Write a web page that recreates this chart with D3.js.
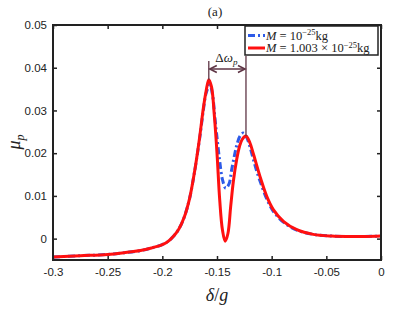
<!DOCTYPE html>
<html><head><meta charset="utf-8">
<script src="https://cdn.jsdelivr.net/npm/d3@7"></script>
<style>body{margin:0;background:#fff}svg{display:block}</style>
</head><body>
<script>
const xTicks = [-0.3,-0.25,-0.2,-0.15,-0.1,-0.05,0];
const xTickLabels = ["-0.3","-0.25","-0.2","-0.15","-0.1","-0.05","0"];
const yTicks = [0,0.01,0.02,0.03,0.04,0.05];
const yTickLabels = ["0","0.01","0.02","0.03","0.04","0.05"];

const deltaRed = [-0.3,-0.275,-0.25,-0.235,-0.22,-0.21,-0.2,-0.195,-0.19,-0.185,-0.18,-0.175,-0.17,-0.166,-0.1625,-0.16,-0.1575,-0.155,-0.1525,-0.15,-0.1475,-0.145,-0.1425,-0.14,-0.1375,-0.135,-0.132,-0.1295,-0.127,-0.1235,-0.12,-0.1167,-0.11,-0.1045,-0.0985,-0.089,-0.077,-0.062,-0.045,-0.03,-0.015,0];
const muRed = [-0.0043,-0.0040,-0.0037,-0.0033,-0.0028,-0.0022,-0.0014,-0.0007,0.0005,0.0022,0.0050,0.0095,0.0165,0.0235,0.0305,0.0345,0.0372,0.0355,0.0290,0.0200,0.0090,0.0020,-0.0006,0.0012,0.0075,0.0135,0.0185,0.0215,0.0232,0.0240,0.0225,0.0198,0.0140,0.0099,0.0068,0.0040,0.0021,0.0010,0.0006,0.0005,0.0005,0.0006];

const deltaBlue = [-0.3,-0.275,-0.25,-0.235,-0.22,-0.21,-0.2,-0.195,-0.19,-0.185,-0.18,-0.175,-0.17,-0.166,-0.1625,-0.16,-0.1565,-0.154,-0.1518,-0.1495,-0.1473,-0.145,-0.142,-0.139,-0.1366,-0.134,-0.132,-0.129,-0.126,-0.123,-0.12,-0.117,-0.1137,-0.11,-0.1045,-0.0985,-0.089,-0.077,-0.062,-0.045,-0.03,-0.015,0];
const muBlue = [-0.0043,-0.0040,-0.0037,-0.0033,-0.0028,-0.0022,-0.0014,-0.0007,0.0005,0.0022,0.0050,0.0095,0.0165,0.0232,0.0300,0.0340,0.0360,0.0335,0.0280,0.0225,0.0177,0.0138,0.0118,0.0128,0.0161,0.0195,0.0218,0.0240,0.0247,0.0238,0.0216,0.0188,0.0158,0.0130,0.0093,0.0064,0.0038,0.0020,0.0010,0.0006,0.0005,0.0005,0.0006];

const peakLeft = -0.1575, peakRight = -0.1235;
const peakLeftVal = 0.0372, peakRightVal = 0.0240;

const W = 416, H = 313;
const m = {l:53, r:35, t:25, b:53};
const svg = d3.select("body").append("svg").attr("width",W).attr("height",H);
const x = d3.scaleLinear().domain([-0.3,0]).range([m.l, W-m.r]);
const y = d3.scaleLinear().domain([-0.005,0.05]).range([H-m.b, m.t]);

const tickFont = "'Liberation Sans', Arial, sans-serif";
const mathFont = "'Liberation Serif', 'DejaVu Serif', serif";

// axes
const gx = svg.append("g").attr("transform",`translate(0,${H-m.b})`)
  .call(d3.axisBottom(x).tickValues(xTicks).tickFormat((d,i)=>xTickLabels[i]).tickSizeInner(-4).tickSizeOuter(0).tickPadding(8));
const gxt = svg.append("g").attr("transform",`translate(0,${m.t})`)
  .call(d3.axisTop(x).tickValues(xTicks).tickFormat("").tickSizeInner(-4).tickSizeOuter(0));
const gy = svg.append("g").attr("transform",`translate(${m.l},0)`)
  .call(d3.axisLeft(y).tickValues(yTicks).tickFormat((d,i)=>yTickLabels[i]).tickSizeInner(-4).tickSizeOuter(0).tickPadding(6));
const gyr = svg.append("g").attr("transform",`translate(${W-m.r},0)`)
  .call(d3.axisRight(y).tickValues(yTicks).tickFormat("").tickSizeInner(-4).tickSizeOuter(0));
[gx,gxt,gy,gyr].forEach(g=>{
  g.selectAll(".domain").remove();
  g.selectAll(".tick line").attr("stroke","#222").attr("stroke-width",1.5);
  g.selectAll("text").attr("font-family",tickFont).attr("font-size",11.5).attr("fill","#222");
});

const clip = svg.append("clipPath").attr("id","c").append("rect")
  .attr("x",m.l).attr("y",m.t).attr("width",W-m.l-m.r).attr("height",H-m.t-m.b);

const line = d3.line().x(d=>x(d[0])).y(d=>y(d[1])).curve(d3.curveCatmullRom.alpha(0.5));
const blueData = deltaBlue.map((d,i)=>[d,muBlue[i]]);
const redData = deltaRed.map((d,i)=>[d,muRed[i]]);

const blue = "#2e5be8", red = "#ff1010", anno = "#5e3545";
svg.append("path").datum(blueData).attr("clip-path","url(#c)").attr("d",line)
  .attr("fill","none").attr("stroke",blue).attr("stroke-width",3).attr("stroke-dasharray","7,3,2,3");
svg.append("path").datum(redData).attr("clip-path","url(#c)").attr("d",line)
  .attr("fill","none").attr("stroke",red).attr("stroke-width",3);

// frame
svg.append("rect").attr("x",m.l).attr("y",m.t).attr("width",W-m.l-m.r).attr("height",H-m.t-m.b)
  .attr("fill","none").attr("stroke","#222").attr("stroke-width",2);

// annotation
const arrowY = 69;
svg.append("line").attr("x1",x(peakLeft)).attr("x2",x(peakLeft)).attr("y1",61).attr("y2",y(peakLeftVal))
  .attr("stroke",anno).attr("stroke-width",1.3);
svg.append("line").attr("x1",x(peakRight)).attr("x2",x(peakRight)).attr("y1",56).attr("y2",y(peakRightVal))
  .attr("stroke",anno).attr("stroke-width",1.3);
svg.append("line").attr("x1",x(peakLeft)+1).attr("x2",x(peakRight)-1).attr("y1",arrowY).attr("y2",arrowY)
  .attr("stroke",anno).attr("stroke-width",1.6);
const xl = x(peakLeft), xr = x(peakRight);
svg.append("path").attr("d",`M${xl+8},${arrowY-3.5} L${xl+1},${arrowY} L${xl+8},${arrowY+3.5}`)
  .attr("fill","none").attr("stroke",anno).attr("stroke-width",1.6);
svg.append("path").attr("d",`M${xr-8},${arrowY-3.5} L${xr-1},${arrowY} L${xr-8},${arrowY+3.5}`)
  .attr("fill","none").attr("stroke",anno).attr("stroke-width",1.6);
const at = svg.append("text").attr("x",(xl+xr)/2 - 1).attr("y",62).attr("text-anchor","middle")
  .attr("font-family",mathFont).attr("font-size",13).attr("fill","#222");
at.append("tspan").text("Δ");
at.append("tspan").attr("font-style","italic").text("ω");
at.append("tspan").attr("font-style","italic").attr("font-size",9).attr("dy",2.5).text("p");

// legend
const lg = svg.append("g");
lg.append("rect").attr("x",245).attr("y",26).attr("width",133).attr("height",29)
  .attr("fill","#fff").attr("stroke","#222").attr("stroke-width",1.5);
lg.append("line").attr("x1",248).attr("x2",265).attr("y1",35.5).attr("y2",35.5)
  .attr("stroke",blue).attr("stroke-width",3).attr("stroke-dasharray","7,3,2,3");
lg.append("line").attr("x1",248).attr("x2",265).attr("y1",48).attr("y2",48)
  .attr("stroke",red).attr("stroke-width",3);
const t1 = lg.append("text").attr("x",266).attr("y",39.5).attr("font-family",mathFont).attr("font-size",12.5).attr("fill","#222");
t1.append("tspan").attr("font-style","italic").text("M");
t1.append("tspan").text(" = 10");
t1.append("tspan").attr("font-size",8.5).attr("dy",-4.5).text("−25");
t1.append("tspan").attr("dy",4.5).text("kg");
const t2 = lg.append("text").attr("x",266).attr("y",52).attr("font-family",mathFont).attr("font-size",12.5).attr("fill","#222");
t2.append("tspan").attr("font-style","italic").text("M");
t2.append("tspan").text(" = 1.003 × 10");
t2.append("tspan").attr("font-size",8.5).attr("dy",-4.5).text("−25");
t2.append("tspan").attr("dy",4.5).text("kg");

// title
svg.append("text").attr("x",215).attr("y",16).attr("text-anchor","middle")
  .attr("font-family",mathFont).attr("font-size",13).attr("fill","#222").text("(a)");

// axis labels
const xlab = svg.append("text").attr("x",217).attr("y",301).attr("text-anchor","middle")
  .attr("font-family",mathFont).attr("font-size",18).attr("fill","#222");
xlab.append("tspan").attr("font-style","italic").text("δ");
xlab.append("tspan").text("/");
xlab.append("tspan").attr("font-style","italic").text("g");
const ylab = svg.append("text").attr("transform","translate(20,142) rotate(-90)").attr("text-anchor","middle")
  .attr("font-family",mathFont).attr("font-size",18).attr("fill","#222");
ylab.append("tspan").attr("font-style","italic").text("μ");
ylab.append("tspan").attr("font-style","italic").attr("font-size",12).attr("dy",4).text("p");
</script>
</body></html>
